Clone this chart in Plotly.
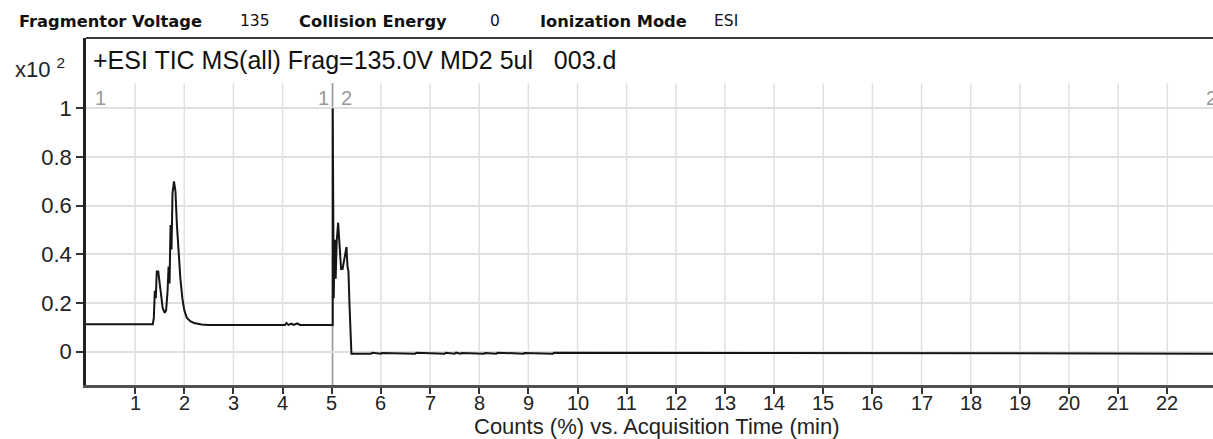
import plotly.graph_objects as go

# ---------------- data ----------------
seg1_time = [0.0, 1.36, 1.38, 1.40, 1.42, 1.44, 1.47, 1.50, 1.53, 1.56, 1.60, 1.63, 1.66, 1.68,
             1.70, 1.72, 1.74, 1.76, 1.79, 1.82, 1.85, 1.88, 1.92, 1.96, 2.00, 2.05, 2.12, 2.20,
             2.35, 2.50, 4.05, 4.08, 4.12, 4.18, 4.22, 4.30, 4.35, 5.02]
seg1_counts = [0.113, 0.113, 0.14, 0.25, 0.22, 0.33, 0.33, 0.28, 0.24, 0.18, 0.16, 0.17, 0.25, 0.35,
               0.28, 0.52, 0.42, 0.65, 0.70, 0.66, 0.52, 0.40, 0.30, 0.22, 0.17, 0.14, 0.125, 0.118,
               0.112, 0.110, 0.110, 0.118, 0.110, 0.115, 0.110, 0.116, 0.110, 0.110]

seg2_time = [5.02, 5.04, 5.06, 5.08, 5.10, 5.13, 5.16, 5.19, 5.22, 5.26, 5.30, 5.32, 5.34, 5.36,
             5.38, 5.40, 5.80, 5.83, 6.00, 6.02, 6.70, 6.72, 7.30, 7.32, 7.50, 7.53, 7.62, 7.65,
             8.10, 8.12, 8.35, 8.37, 8.90, 8.92, 9.50, 9.52, 22.93]
seg2_counts = [1.00, 0.22, 0.46, 0.30, 0.45, 0.53, 0.42, 0.34, 0.34, 0.38, 0.43, 0.35, 0.33, 0.20,
               0.12, -0.008, -0.008, -0.004, -0.008, -0.005, -0.008, -0.004, -0.008, -0.004, -0.008, -0.004, -0.008, -0.005,
               -0.008, -0.005, -0.008, -0.004, -0.008, -0.005, -0.008, -0.004, -0.008]

x_ticks = list(range(1, 23))
y_ticks = [0, 0.2, 0.4, 0.6, 0.8, 1.0]
y_tick_text = ["0", "0.2", "0.4", "0.6", "0.8", "1"]

header_labels = ["Fragmentor Voltage", "Collision Energy", "Ionization Mode"]
header_values = ["135", "0", "ESI"]
title_text = "+ESI TIC MS(all) Frag=135.0V MD2 5ul\u00a0\u00a0\u00a0003.d"
x_title = "Counts (%) vs. Acquisition Time (min)"
segment_boundary = 5.02

# ---------------- layout geometry ----------------
W, H = 1213, 439
L, R, T, B = 86, 0, 38, 54
PW, PH = W - L - R, H - T - B
X_RANGE = [0, 22.93]
Y_RANGE = [-0.1368, 1.2888]
GRID_TOP = 1.1027
ARIAL = "Liberation Sans, Arial"


def px(x):
    return (x - L) / PW


def py(y):
    return (H - B - y) / PH


time = seg1_time + seg2_time
counts = seg1_counts + seg2_counts

fig = go.Figure()
fig.add_trace(go.Scatter(x=time, y=counts, mode="lines",
                         line=dict(color="#151515", width=2), hoverinfo="skip",
                         showlegend=False))

shapes = []
for t in x_ticks:
    shapes.append(dict(type="line", xref="x", yref="y", x0=t, x1=t, y0=Y_RANGE[0], y1=GRID_TOP,
                       line=dict(color="#e0e0e0", width=1.5), layer="below"))
# segment divider
shapes.append(dict(type="line", xref="x", yref="y", x0=segment_boundary, x1=segment_boundary,
                   y0=Y_RANGE[0], y1=GRID_TOP, line=dict(color="#8a8a8a", width=1.2), layer="below"))
# top frame line
shapes.append(dict(type="line", xref="paper", yref="paper", x0=0, x1=1, y0=1, y1=1,
                   line=dict(color="#3a3a3a", width=2)))

ann = []
label_x = [17, 297, 538]
value_x = [238, 488, 712]
for lab, val, lx, vx in zip(header_labels, header_values, label_x, value_x):
    ann.append(dict(text="<b>%s</b>" % lab, x=px(lx), y=py(21), xref="paper", yref="paper",
                    xanchor="left", yanchor="middle", showarrow=False,
                    font=dict(family="DejaVu Sans", size=16.3, color="#111")))
    ann.append(dict(text=val, x=px(vx), y=py(21), xref="paper", yref="paper",
                    xanchor="left", yanchor="middle", showarrow=False,
                    font=dict(family="DejaVu Sans", size=15.5, color="#111")))

ann.append(dict(text=title_text, x=px(91), y=py(60), xref="paper", yref="paper",
                xanchor="left", yanchor="middle", showarrow=False,
                font=dict(family=ARIAL, size=25, color="#111")))
ann.append(dict(text="x10\u00a0<sup>2</sup>", x=px(13), y=py(68), xref="paper", yref="paper",
                xanchor="left", yanchor="middle", showarrow=False,
                font=dict(family=ARIAL, size=22, color="#222")))

seg_font = dict(family=ARIAL, size=20, color="#999")
for txt, x in [("1", 93), ("1", 316), ("2", 339), ("2", 1204)]:
    ann.append(dict(text=txt, x=px(x), y=py(98), xref="paper", yref="paper",
                    xanchor="left", yanchor="middle", showarrow=False, font=seg_font))

# x tick labels
for t in x_ticks:
    ann.append(dict(text=str(t), x=t, y=py(403), xref="x", yref="paper",
                    xanchor="center", yanchor="middle", showarrow=False,
                    font=dict(family=ARIAL, size=20, color="#222")))

ann.append(dict(text=x_title, x=px(657), y=py(426), xref="paper", yref="paper",
                xanchor="center", yanchor="middle", showarrow=False,
                font=dict(family=ARIAL, size=22, color="#222")))

fig.update_layout(
    width=W, height=H, autosize=False,
    margin=dict(l=L, r=R, t=T, b=B, pad=0),
    paper_bgcolor="white", plot_bgcolor="white",
    shapes=shapes, annotations=ann,
    xaxis=dict(range=X_RANGE, tickvals=x_ticks, showticklabels=False,
               showgrid=False, zeroline=False, showline=True, linecolor="#505050", linewidth=3,
               ticks="outside", ticklen=6, tickwidth=2, tickcolor="#333"),
    yaxis=dict(range=Y_RANGE, tickvals=y_ticks, ticktext=y_tick_text,
               showgrid=True, gridcolor="#e0e0e0", gridwidth=1.5, zeroline=False,
               showline=True, linecolor="#222", linewidth=2.5,
               ticks="outside", ticklen=7, tickwidth=2, tickcolor="#333",
               tickfont=dict(family=ARIAL, size=22, color="#222")),
)

fig.write_html("out.html")
